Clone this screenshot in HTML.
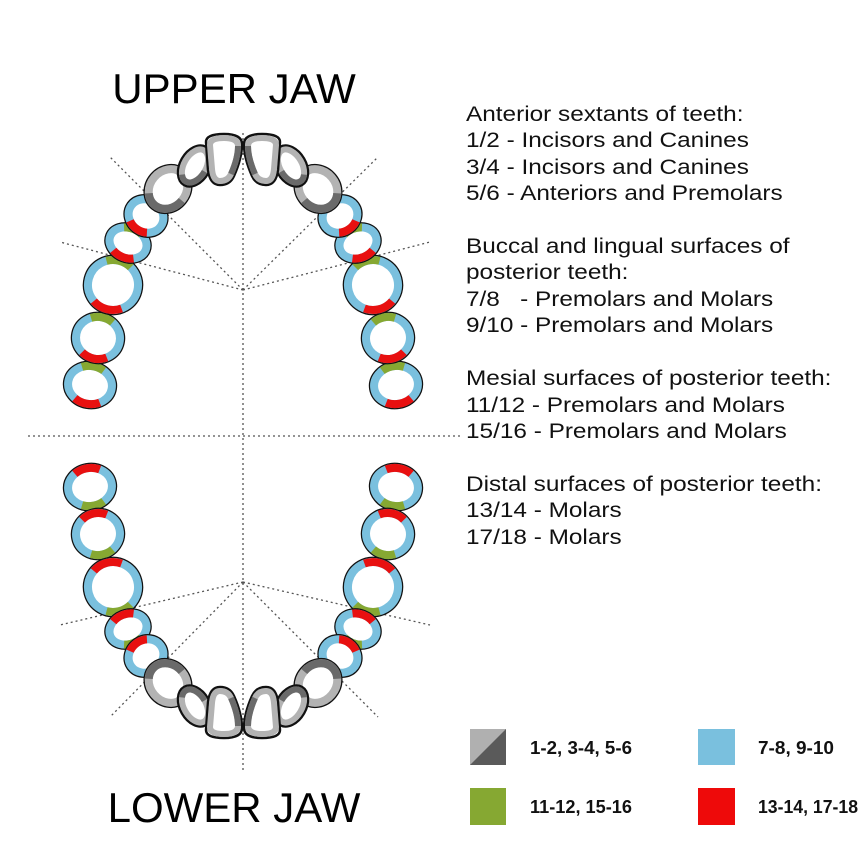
<!DOCTYPE html>
<html><head><meta charset="utf-8"><style>
html,body{margin:0;padding:0;background:#fff;}
svg{display:block;}
.t{font-family:"Liberation Sans",sans-serif;}
</style></head><body>
<svg width="862" height="856" viewBox="0 0 862 856" xmlns="http://www.w3.org/2000/svg">
<defs>
<g id="half" fill="none">
  <g transform="translate(90,385) rotate(10)">
    <ellipse rx="26" ry="23" fill="#fff" stroke="#111" stroke-width="2.5"/>
    <ellipse rx="22" ry="19" stroke="#7ac0de" stroke-width="8"/>
    <path d="M-11,-16.45 A22 19 0 0 1 11,-16.45" stroke="#86a832" stroke-width="8"/>
    <path d="M12.6,15.6 A22 19 0 0 1 -12.6,15.6" stroke="#e81010" stroke-width="8"/>
  </g>
  <g transform="translate(98,338) rotate(12)">
    <ellipse rx="26" ry="25" fill="#fff" stroke="#111" stroke-width="2.5"/>
    <ellipse rx="22" ry="21" stroke="#7ac0de" stroke-width="8"/>
    <path d="M-11,-18.2 A22 21 0 0 1 11,-18.2" stroke="#86a832" stroke-width="8"/>
    <path d="M12.6,17.2 A22 21 0 0 1 -12.6,17.2" stroke="#e81010" stroke-width="8"/>
  </g>
  <g transform="translate(113,285) rotate(15)">
    <ellipse rx="29" ry="29" fill="#fff" stroke="#111" stroke-width="2.5"/>
    <ellipse rx="25" ry="25" stroke="#7ac0de" stroke-width="8"/>
    <path d="M-12.5,-21.65 A25 25 0 0 1 12.5,-21.65" stroke="#86a832" stroke-width="8"/>
    <path d="M14.35,20.5 A25 25 0 0 1 -14.35,20.5" stroke="#e81010" stroke-width="8"/>
  </g>
  <g transform="translate(128,243) rotate(22)">
    <ellipse rx="23" ry="19" fill="#fff" stroke="#111" stroke-width="2.5"/>
    <ellipse rx="19" ry="15" stroke="#7ac0de" stroke-width="8"/>
    <path d="M-9.5,-13 A19 15 0 0 1 9.5,-13" stroke="#86a832" stroke-width="8"/>
    <path d="M10.9,12.3 A19 15 0 0 1 -10.9,12.3" stroke="#e81010" stroke-width="8"/>
  </g>
  <g transform="translate(146,216) rotate(35)">
    <ellipse rx="22" ry="20" fill="#fff" stroke="#111" stroke-width="2.5"/>
    <ellipse rx="18" ry="16" stroke="#7ac0de" stroke-width="8"/>
    <path d="M-9,-13.86 A18 16 0 0 1 9,-13.86" stroke="#86a832" stroke-width="8"/>
    <path d="M10.3,13.1 A18 16 0 0 1 -10.3,13.1" stroke="#e81010" stroke-width="8"/>
  </g>
  <g transform="translate(168,189) rotate(40)">
    <ellipse rx="22" ry="25" fill="#fff" stroke="#111" stroke-width="2.5"/>
    <ellipse rx="18" ry="21" stroke="#b3b3b3" stroke-width="8"/>
    <path d="M18,0 A18 21 0 0 1 -12,15.6" stroke="#6a6a6a" stroke-width="8"/>
  </g>
  <g transform="translate(195,166) rotate(30)">
    <ellipse rx="15" ry="22" fill="#fff" stroke="#111" stroke-width="2.5"/>
    <ellipse rx="11" ry="18" stroke="#b3b3b3" stroke-width="6"/>
    <path d="M11,0 A11 18 0 0 1 -7,13.9" stroke="#6a6a6a" stroke-width="6"/>
  </g>
  <g transform="translate(224,160)">
    <path d="M-18,-18 Q-18,-26 0,-26 Q18,-26 18,-16 Q18,-2 10,16 Q6,25 -4,25 Q-14,25 -16,10 Z" fill="#fff" stroke="#111" stroke-width="2.5"/>
    <path d="M-14,-15 Q-14,-22 0,-22 Q14,-22 14,-14 Q14,-2 7,14 Q4,21 -4,21 Q-11,21 -12,9 Z" stroke="#b3b3b3" stroke-width="6"/>
    <path d="M14,-14 Q14,-2 7,14" stroke="#6a6a6a" stroke-width="6"/>
  </g>
</g>
</defs>

<g stroke="#555" stroke-width="1.3" stroke-dasharray="2 3" fill="none">
  <line x1="243" y1="133" x2="243" y2="772"/>
  <line x1="28" y1="436" x2="460" y2="436"/>
  <line x1="243" y1="290" x2="60" y2="242"/>
  <line x1="243" y1="290" x2="110" y2="157"/>
  <line x1="243" y1="290" x2="430" y2="242"/>
  <line x1="243" y1="290" x2="378" y2="157"/>
  <line x1="243" y1="582" x2="60" y2="625"/>
  <line x1="243" y1="582" x2="110" y2="717"/>
  <line x1="243" y1="582" x2="430" y2="625"/>
  <line x1="243" y1="582" x2="378" y2="717"/>
</g>

<use href="#half"/>
<use href="#half" transform="translate(486,0) scale(-1,1)"/>
<use href="#half" transform="translate(0,872) scale(1,-1)"/>
<use href="#half" transform="translate(486,872) scale(-1,-1)"/>

<text class="t" x="234" y="103" font-size="42" text-anchor="middle" fill="#000">UPPER JAW</text>
<text class="t" x="234" y="822" font-size="42" text-anchor="middle" fill="#000">LOWER JAW</text>

<g class="t" font-size="21" fill="#111" transform="translate(466,0) scale(1.16,1) translate(-466,0)">
  <text x="466" y="121">Anterior sextants of teeth:</text>
  <text x="466" y="147">1/2 - Incisors and Canines</text>
  <text x="466" y="174">3/4 - Incisors and Canines</text>
  <text x="466" y="200">5/6 - Anteriors and Premolars</text>
  <text x="466" y="253">Buccal and lingual surfaces of</text>
  <text x="466" y="279">posterior teeth:</text>
  <text x="466" y="306" xml:space="preserve">7/8   - Premolars and Molars</text>
  <text x="466" y="332">9/10 - Premolars and Molars</text>
  <text x="466" y="385">Mesial surfaces of posterior teeth:</text>
  <text x="466" y="412">11/12 - Premolars and Molars</text>
  <text x="466" y="438">15/16 - Premolars and Molars</text>
  <text x="466" y="491">Distal surfaces of posterior teeth:</text>
  <text x="466" y="517">13/14 - Molars</text>
  <text x="466" y="544">17/18 - Molars</text>
</g>

<rect x="470" y="729" width="36" height="36" fill="#b0b0b0"/>
<polygon points="506,729 506,765 470,765" fill="#5a5a5a"/>
<rect x="698" y="729" width="37" height="36" fill="#7ac0de"/>
<rect x="470" y="788" width="36" height="37" fill="#86a832"/>
<rect x="698" y="788" width="37" height="37" fill="#ee0a0a"/>
<g class="t" font-size="18" font-weight="bold" fill="#111">
  <text x="530" y="754" textLength="102" lengthAdjust="spacingAndGlyphs">1-2, 3-4, 5-6</text>
  <text x="758" y="754" textLength="76" lengthAdjust="spacingAndGlyphs">7-8, 9-10</text>
  <text x="530" y="813" textLength="102" lengthAdjust="spacingAndGlyphs">11-12, 15-16</text>
  <text x="758" y="813" textLength="100" lengthAdjust="spacingAndGlyphs">13-14, 17-18</text>
</g>
</svg>
</body></html>
